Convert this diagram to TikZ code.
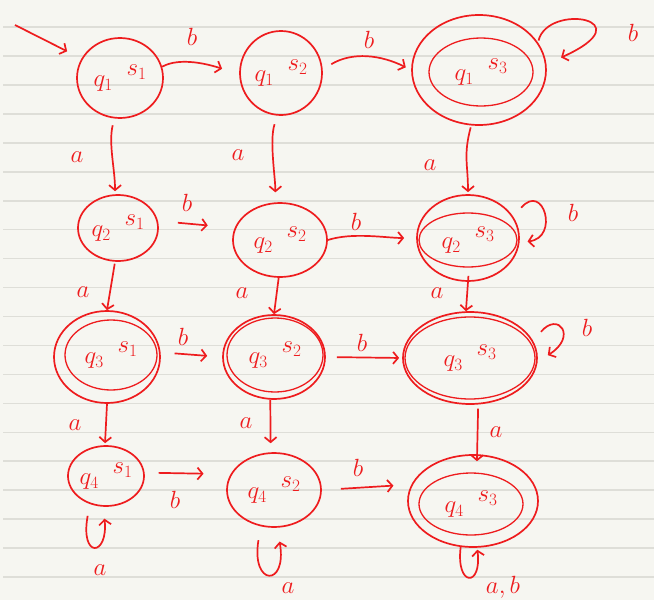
\documentclass[tikz,border=0pt]{standalone}
\usetikzlibrary{arrows.meta,shapes.geometric}
\definecolor{hred}{HTML}{EE1C1E}
\definecolor{paper}{HTML}{F6F6F1}
\definecolor{ruleline}{HTML}{DEDED8}
\newcommand\stlab[2]{$q_{#1}\;\;\raisebox{0.42em}{$s_{#2}$}$}
\begin{document}
\begin{tikzpicture}[x=1pt,y=-1pt,
  state/.style 2 args={ellipse,draw=hred,line width=1.7pt,inner sep=0pt,
     minimum width=#1,minimum height=#2,text=hred,font=\fontsize{27}{30}\selectfont},
  inner/.style={line width=1.3pt},
  lab/.style={text=hred,inner sep=0pt,font=\fontsize{28}{32}\selectfont},
  arr/.style={draw=hred,line width=1.7pt,-{Straight Barb[length=5pt,width=12pt]}},
  rl/.style={draw=ruleline,line width=1.6pt}]
\useasboundingbox (0,0) rectangle (654,600);
\fill[paper] (0,0) rectangle (654,600);
\foreach \k in {0,...,19} \draw[rl] (3,{27+28.95*\k}) -- (654,{27+28.95*\k});

% row 1
\node[state={86pt}{80pt}] (n11) at (120,78) {\stlab{1}{1}};
\node[state={82pt}{84pt}] (n12) at (281,73) {\stlab{1}{2}};
\node[state={134pt}{110pt}] (n13) at (479,70) {};
\node[state={104pt}{68pt},inner] (n13i) at (481,72) {\stlab{1}{3}};
% row 2
\node[state={80pt}{66pt}] (n21) at (118,228) {\stlab{2}{1}};
\node[state={94pt}{74pt}] (n22) at (280,240) {\stlab{2}{2}};
\node[state={102pt}{86pt}] (n23) at (468,238) {};
\node[state={98pt}{54pt},inner] (n23i) at (468,240) {\stlab{2}{3}};
% row 3
\node[state={106pt}{92pt}] (n31) at (107,357) {};
\node[state={92pt}{70pt},inner] (n31i) at (111,355) {\stlab{3}{1}};
\node[state={102pt}{84pt}] (n32) at (274,357) {};
\node[state={96pt}{74pt},inner] (n32i) at (275,355) {\stlab{3}{2}};
\node[state={134pt}{92pt}] (n33) at (470,358) {};
\node[state={130pt}{82pt},inner] (n33i) at (470,358) {\stlab{3}{3}};
% row 4
\node[state={76pt}{60pt}] (n41) at (106,476) {\stlab{4}{1}};
\node[state={94pt}{74pt}] (n42) at (274,490) {\stlab{4}{2}};
\node[state={130pt}{92pt}] (n43) at (473,501) {};
\node[state={104pt}{62pt},inner] (n43i) at (471,504) {\stlab{4}{3}};

% start
\coordinate (s0) at (15,25);
\draw[arr,shorten >=16pt] (s0) -- (n11);

% row 1 horizontal
\draw[arr,shorten >=18pt] (n11.15) .. controls +(18,-10) and +(-30,-10) .. (n12.182);
\draw[arr,shorten <=10pt,shorten >=6pt] (n12.5) .. controls +(30,-18) and +(-30,-15) .. (n13.180);
\draw[arr,shorten <=2pt,shorten >=16pt] (n13.25) .. controls +(10,-40) and +(100,-45) .. (n13.5);
% row 1 -> row 2
\draw[arr,shorten <=7pt,shorten >=3pt] (n11.262) .. controls +(-6,25) and +(0,-25) .. (n21.95);
\draw[arr,shorten <=9pt,shorten >=10pt] (n12.265) .. controls +(-8,25) and +(0,-25) .. (n22.97);
\draw[arr,shorten <=2pt,shorten >=2pt] (n13.262) .. controls +(-8,30) and +(0,-30) .. (n23.90);
% row 2 horizontal
\draw[arr,shorten <=20pt,shorten >=27pt] (n21.10) -- (n22.165);
\draw[arr,shorten >=12pt] (n22.0) .. controls +(25,-8) and +(-30,0) .. (n23.180);
\draw[arr,shorten <=12pt,shorten >=8pt] (n23.25) .. controls +(30,-35) and +(40,-5) .. (n23.-5);
% row 2 -> row 3
\draw[arr,shorten <=2pt] (n21.265) -- (n31.90);
\draw[arr] (n22.268) -- (n32.90);
\draw[arr,shorten <=-6pt] (n23.270) -- (n33.95);
% row 3 horizontal
\draw[arr,shorten <=14pt,shorten >=15pt] (n31.5) -- (n32.180);
\draw[arr,shorten <=11pt,shorten >=3pt] (n32.0) -- (n33.180);
\draw[arr,shorten <=12pt,shorten >=12pt] (n33.15) .. controls +(25,-30) and +(40,-25) .. (n33.-3);
% row 3 -> row 4
\draw[arr,shorten >=2pt] (n31.270) -- (n41.92);
\draw[arr,shorten >=9pt] (n32.265) -- (n42.95);
\draw[arr,shorten <=4pt,shorten >=-7pt] (n33.280) -- (n43.85);
% row 4 horizontal
\draw[arr,shorten <=14pt,shorten >=27pt] (n41.5) -- (n42.160);
\draw[arr,shorten <=19pt,shorten >=18pt] (n42.0) -- (n43.165);
% row 4 loops
\draw[arr,shorten <=12pt,shorten >=12pt] (n41.240) .. controls +(-10,55) and +(5,50) .. (n41.265);
\draw[arr,shorten <=14pt,shorten >=14pt] (n42.250) .. controls +(-10,60) and +(10,60) .. (n42.275);
\draw[arr,shorten >=2pt] (n43.255) .. controls +(-5,40) and +(5,40) .. (n43.275);

% labels
\node[lab] (l1) at (192,37) {$b$};
\node[lab] (l2) at (369,40) {$b$};
\node[lab] (l3) at (633,33) {$b$};
\node[lab] (l4) at (77,157) {$a$};
\node[lab] (l5) at (238,155) {$a$};
\node[lab] (l6) at (430,165) {$a$};
\node[lab] (l7) at (187,203) {$b$};
\node[lab] (l8) at (356,222) {$b$};
\node[lab] (l9) at (573,213) {$b$};
\node[lab] (l10) at (83,292) {$a$};
\node[lab] (l11) at (242,293) {$a$};
\node[lab] (l12) at (437,293) {$a$};
\node[lab] (l13) at (183,337) {$b$};
\node[lab] (l14) at (362,343) {$b$};
\node[lab] (l15) at (587,328) {$b$};
\node[lab] (l16) at (75,425) {$a$};
\node[lab] (l17) at (246,423) {$a$};
\node[lab] (l18) at (496,432) {$a$};
\node[lab] (l19) at (175,500) {$b$};
\node[lab] (l20) at (358,468) {$b$};
\node[lab] (l21) at (100,570) {$a$};
\node[lab] (l22) at (288,588) {$a$};
\node[lab] (l23) at (503,587) {$a,b$};
\end{tikzpicture}
\end{document}
